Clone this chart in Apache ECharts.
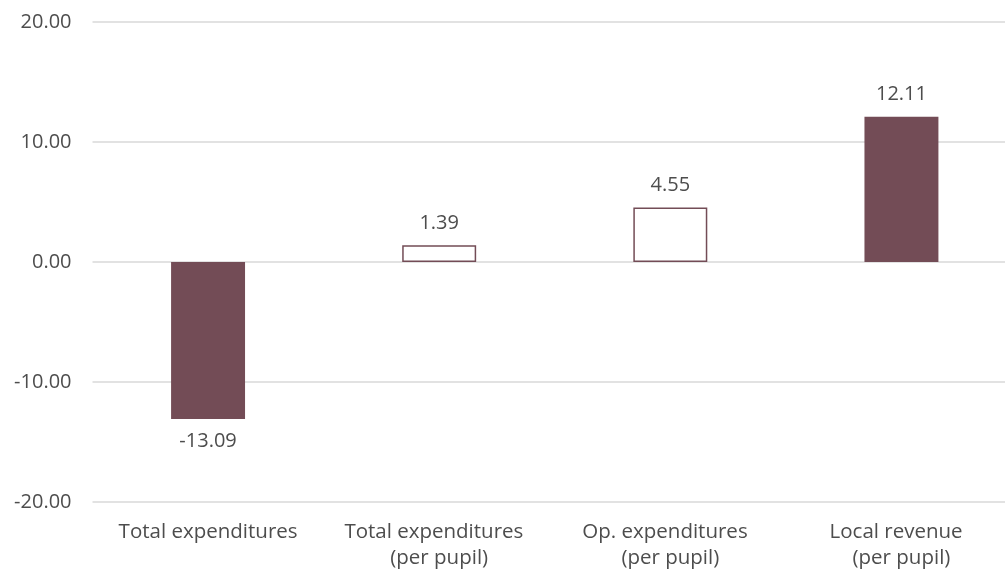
<!DOCTYPE html>
<html>
<head>
<meta charset="utf-8">
<script src="https://cdn.jsdelivr.net/npm/echarts@6/dist/echarts.min.js"></script>
<style>
  html, body { margin: 0; padding: 0; background: #fff; overflow: hidden; }
  /* plot area runs a little past the right edge of the window */
  #chart { width: 1017px; height: 577px; }
</style>
</head>
<body>
<div id="chart"></div>
<script>
// Percent change by measure
const categories = [
  'Total expenditures',
  'Total expenditures  \n(per pupil)',
  'Op. expenditures  \n(per pupil)',
  'Local revenue  \n(per pupil)'
];
const values = [-13.09, 1.39, 4.55, 12.11];
const filled = [true, false, false, true];
const yTicks = { min: -20, max: 20, interval: 10 };

const BAR = '#734c56';
const TEXT = '#4d4d4d';
const FONT = '"Open Sans", "Noto Sans", sans-serif';

const chart = echarts.init(document.getElementById('chart'), null, { renderer: 'canvas' });

const data = values.map((v, i) => ({
  value: v,
  itemStyle: filled[i]
    ? { color: BAR, borderColor: BAR, borderWidth: 0 }
    : { color: '#ffffff', borderColor: BAR, borderWidth: 1.5 },
  label: { position: v < 0 ? 'bottom' : 'top' }
}));

chart.setOption({
  animation: false,
  grid: { left: 92.5, right: 0, top: 22, bottom: 75, containLabel: false },
  xAxis: {
    type: 'category',
    data: categories,
    position: 'bottom',
    axisLine: { show: false },
    axisTick: { show: false },
    axisLabel: {
      color: TEXT, fontFamily: FONT, fontSize: 20.5, lineHeight: 26,
      margin: 17, interval: 0, align: 'center'
    }
  },
  yAxis: {
    type: 'value',
    min: yTicks.min, max: yTicks.max, interval: yTicks.interval,
    axisLine: { show: false },
    axisTick: { show: false },
    splitLine: { lineStyle: { color: '#d9d9d9', width: 1.5 } },
    axisLabel: {
      color: TEXT, fontFamily: FONT, fontSize: 20, margin: 21,
      formatter: v => v.toFixed(2)
    }
  },
  series: [{
    type: 'bar',
    data: data,
    barWidth: '32%',
    label: {
      show: true,
      color: TEXT, fontFamily: FONT, fontSize: 20, distance: 12,
      formatter: p => p.value.toFixed(2)
    }
  }]
});
</script>
</body>
</html>
